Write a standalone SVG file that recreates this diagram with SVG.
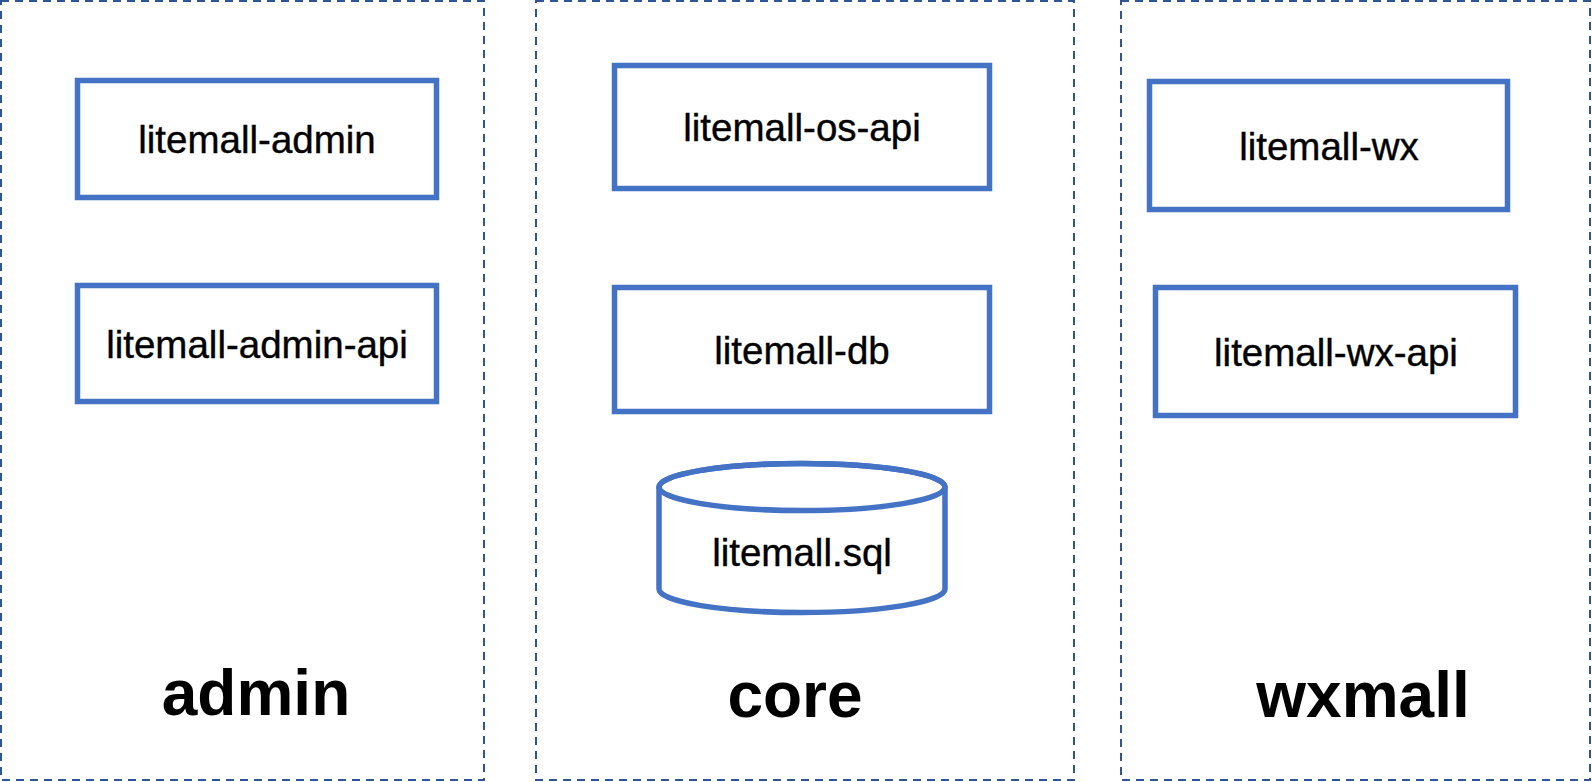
<svg xmlns="http://www.w3.org/2000/svg" width="1592" height="782" viewBox="0 0 1592 782">
<style>
.panel{fill:none;stroke:#2F5597;stroke-width:2;stroke-dasharray:8 6}
.box{fill:#fff;stroke:#4472C4;stroke-width:5.5}
.lbl{font-family:"Liberation Sans",Arial,sans-serif;font-size:38.5px;fill:#000;stroke:#000;stroke-width:0.4;text-anchor:middle}
.big{font-family:"Liberation Sans",Arial,sans-serif;font-size:64px;font-weight:bold;fill:#000;text-anchor:middle}
</style>
<rect width="1592" height="782" fill="#fff"/>
<g id="panel-admin">
<rect class="panel" x="1" y="1" width="483" height="779"/>
<text class="big" x="256" y="715">admin</text>
</g>
<g id="panel-core">
<rect class="panel" x="536" y="1" width="538" height="779"/>
<text class="big" x="795" y="717">core</text>
</g>
<g id="panel-wxmall">
<rect class="panel" x="1121" y="1" width="469" height="779"/>
<text class="big" x="1363" y="717">wxmall</text>
</g>
<g id="litemall-admin">
<rect class="box" x="77.5" y="80.5" width="359" height="117"/>
<text class="lbl" x="257" y="153">litemall-admin</text>
</g>
<g id="litemall-admin-api">
<rect class="box" x="77.5" y="285.5" width="359" height="116"/>
<text class="lbl" x="257" y="358">litemall-admin-api</text>
</g>
<g id="litemall-os-api">
<rect class="box" x="614.5" y="65.5" width="375" height="123"/>
<text class="lbl" x="802" y="141">litemall-os-api</text>
</g>
<g id="litemall-db">
<rect class="box" x="614.5" y="287.5" width="375" height="124"/>
<text class="lbl" x="802" y="364">litemall-db</text>
</g>
<g id="litemall-sql">
<path class="box" d="M659,487 A143,23.5 0 0 1 945,487 L945,589 A143,23.5 0 0 1 659,589 Z"/>
<ellipse cx="802" cy="487" rx="143" ry="23.5" fill="none" stroke="#4472C4" stroke-width="5.5"/>
<text class="lbl" x="802" y="566">litemall.sql</text>
</g>
<g id="litemall-wx">
<rect class="box" x="1149.5" y="81.5" width="358" height="128"/>
<text class="lbl" x="1329" y="160">litemall-wx</text>
</g>
<g id="litemall-wx-api">
<rect class="box" x="1155.5" y="287.5" width="360" height="128"/>
<text class="lbl" x="1336" y="366">litemall-wx-api</text>
</g>
<g id="connectors"></g>
</svg>
